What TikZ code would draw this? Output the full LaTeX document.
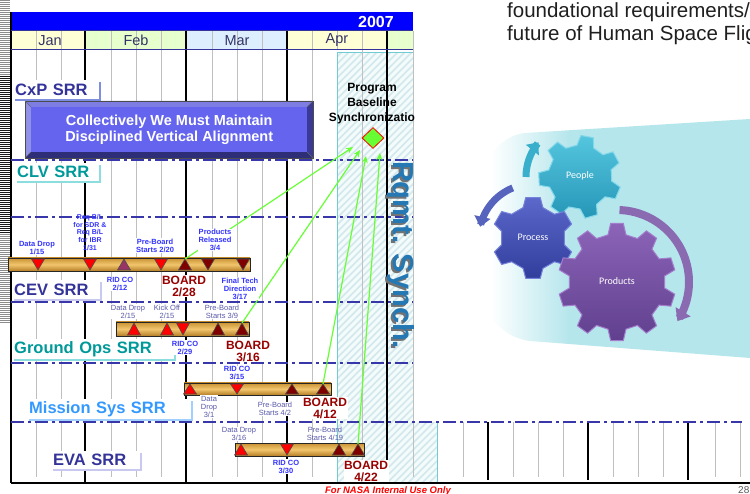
\documentclass[tikz,border=0pt]{standalone}
\usepackage{fontspec}
\setmainfont{Liberation Sans}
\newfontfamily\gearfont{Carlito}
\usetikzlibrary{arrows.meta,shapes.geometric,shadows}

\definecolor{navy}{RGB}{51,51,153}
\definecolor{tealtxt}{RGB}{0,153,153}
\definecolor{skytxt}{RGB}{51,153,255}
\definecolor{notetxt}{RGB}{51,51,255}
\definecolor{slate}{RGB}{90,90,170}
\definecolor{boardred}{RGB}{153,0,0}
\definecolor{dashc}{RGB}{55,55,170}
\definecolor{monthtxt}{RGB}{51,51,102}
\definecolor{janfill}{RGB}{255,255,214}
\definecolor{febfill}{RGB}{230,255,204}
\definecolor{marfill}{RGB}{221,238,255}
\definecolor{hatchbg}{RGB}{244,251,251}
\definecolor{hatchln}{RGB}{210,232,236}
\definecolor{hatchedge}{RGB}{112,204,210}
\definecolor{boxface}{RGB}{100,100,238}
\definecolor{boxtop}{RGB}{125,125,228}
\definecolor{boxdark}{RGB}{58,58,150}
\definecolor{greenarr}{RGB}{102,255,51}
\definecolor{trired}{RGB}{255,0,0}
\definecolor{tridark}{RGB}{128,0,0}
\definecolor{tripurp}{RGB}{153,51,102}
\definecolor{goldtop}{RGB}{200,145,50}
\definecolor{goldmid}{RGB}{242,198,110}
\definecolor{goldbot}{RGB}{180,126,38}
\definecolor{rqmt}{RGB}{36,120,180}
\definecolor{funnel}{RGB}{181,230,236}
\definecolor{cxpsh}{RGB}{127,143,224}
\definecolor{tealsh}{RGB}{140,222,222}
\definecolor{lavsh}{RGB}{200,200,240}
\definecolor{skysh}{RGB}{160,208,255}

\pgfdeclarehorizontalshading{funnelfade}{100bp}{color(0bp)=(white); color(29bp)=(white); color(43bp)=(funnel); color(100bp)=(funnel)}

\tikzset{
  weekline/.style={black!25, line width=0.7pt},
  monthline/.style={black, line width=1.3pt},
  rowsep/.style={dashc, line width=1.4pt, dash pattern=on 13pt off 4pt on 3pt off 4pt},
  srr/.style 2 args={anchor=north west, fill=white, inner sep=2pt, align=left,
    font=\fontsize{16.5}{18}\selectfont\bfseries, text=#1,
    general shadow={fill=#2, shadow xshift=2pt, shadow yshift=-2pt}},
  note/.style={font=\fontsize{7.5}{8}\selectfont\bfseries, text=notetxt, align=center, inner sep=0.5pt, fill=white},
  softnote/.style={font=\fontsize{7.5}{8}\selectfont, text=slate, align=center, inner sep=0.5pt, fill=white},
  board/.style={font=\fontsize{12}{12}\selectfont\bfseries, text=boardred, align=center, inner sep=0.5pt, fill=white},
  gbar/.style={draw=black!85, line width=0.9pt, top color=goldtop, bottom color=goldbot, middle color=goldmid},
  tri/.style={draw=black!70, line width=0.6pt, fill=#1},
  sync/.style={-{Stealth[length=7pt,width=6pt]}, greenarr, line width=1.2pt},
  gearlabel/.style={font=\gearfont\fontsize{10}{10}\selectfont, text=white},
}

% gear outline: centre x, centre y, teeth, root radius, tip radius, rotation, path options
\newcommand\cog[7]{%
  \path[#7] ({#1+#4*cos(#6-0.3*360/#3)},{#2+#4*sin(#6-0.3*360/#3)})
  \foreach \k in {1,...,#3}{
    -- ({#1+#4*cos(#6+(\k-1-0.3)*360/#3)},{#2+#4*sin(#6+(\k-1-0.3)*360/#3)})
    -- ({#1+#5*cos(#6+(\k-1-0.17)*360/#3)},{#2+#5*sin(#6+(\k-1-0.17)*360/#3)})
    -- ({#1+#5*cos(#6+(\k-1+0.17)*360/#3)},{#2+#5*sin(#6+(\k-1+0.17)*360/#3)})
    -- ({#1+#4*cos(#6+(\k-1+0.3)*360/#3)},{#2+#4*sin(#6+(\k-1+0.3)*360/#3)})
  } -- cycle;}

% milestone triangles on a bar: x, bar top, bar bottom, colour
\newcommand\tup[4]{\path[tri=#4] (#1-6.5,#3-1) -- (#1,#2+1) -- (#1+6.5,#3-1) -- cycle;}
\newcommand\tdown[4]{\path[tri=#4] (#1-6.5,#2+1) -- (#1,#3-1) -- (#1+6.5,#2+1) -- cycle;}

\begin{document}
\begin{tikzpicture}[x=1pt,y=-1pt]
\useasboundingbox (0,0) rectangle (750,494);
\begin{scope}
\clip (0,0) rectangle (750,494);

% ragged slide edge
\foreach \yy in {1,3,...,323}{
  \pgfmathsetmacro\g{int(45+45*(\yy>75)*(\yy<235))}
  \draw[black!\g, line width=1pt] (0,\yy) -- (10,\yy);
}

% year header and month strip
\fill[blue] (11,12) rectangle (413,31);
\node[font=\fontsize{16}{16}\selectfont\bfseries, text=white] (yr) at (376,21.5) {2007};
\fill[janfill] (11,31) rectangle (85,50);
\fill[febfill] (85,31) rectangle (186,50);
\fill[marfill] (186,31) rectangle (287,50);
\fill[janfill] (287,31) rectangle (387,50);
\fill[febfill] (387,31) rectangle (413,50);
\foreach \xx in {36,61,111,136,161,212,237,262,312,337,362,413} \draw[weekline] (\xx,31) -- (\xx,50);
\foreach \m/\xx in {Jan/50,Feb/136,Mar/237,Apr/337}
  \node[font=\fontsize{14.5}{14.5}\selectfont, text=monthtxt] (m\m) at (\xx,40.5) {\m};

% hatched synchronisation column
\begin{scope}
  \clip (337,53) -- (413,53) -- (413,422) -- (437,422) -- (437,483) -- (337,483) -- cycle;
  \fill[hatchbg] (330,50) rectangle (440,490);
  \foreach \k in {-110,-103,...,440} \draw[hatchln, line width=1.7pt] (\k,483) -- ++(500,-500);
\end{scope}
\draw[hatchedge, line width=1pt] (337,483) -- (337,53) -- (413,53);
\draw[hatchedge, line width=1pt] (437,422) -- (437,483);

% week and month grid
\foreach \xx in {36,61,111,136,161,212,237,262,312,362,413} \draw[weekline] (\xx,50) -- (\xx,477);
\foreach \xx in {463,513,538,563,613,638,663,715,740} \draw[weekline] (\xx,422) -- (\xx,477);
\foreach \xx in {488,588,688} \draw[monthline] (\xx,422) -- (\xx,480);
\foreach \xx in {85,186,287,387} \draw[monthline] (\xx,31) -- (\xx,483);
\draw[monthline] (11,12) -- (11,483);
\draw[navy, line width=1pt] (11,31) -- (413,31);
\draw[navy, line width=1pt] (11,50) -- (413,50);
\draw[black, line width=2pt] (11,483) -- (750,483);

% row separators
\foreach \yy in {160,217,302,363} \draw[rowsep] (11,\yy) -- (413,\yy);
\draw[rowsep] (11,422) -- (742,422);

% review labels
\node[srr={navy}{cxpsh}, text width=82pt, minimum height=19pt] (cxp) at (13,80) {CxP SRR};
\node[srr={tealtxt}{tealsh}, text width=80pt, minimum height=18pt] (clv) at (15,163) {CLV SRR};
\node[srr={navy}{lavsh}, text width=84pt, minimum height=19pt] (cev) at (12,280) {CEV SRR};
\node[srr={tealtxt}{tealsh}, text width=158pt, minimum height=20pt] (gops) at (12,339) {Ground Ops SRR};
\node[srr={skytxt}{skysh}, text width=160pt, minimum height=19pt] (msys) at (27,399) {Mission Sys SRR};
\node[srr={navy}{lavsh}, text width=85pt, minimum height=18pt] (eva) at (51,451) {EVA SRR};

% bevelled banner
\fill[boxdark] (25,101) rectangle (313,158);
\fill[boxtop] (25,101) -- (313,101) -- (307,107) -- (31,107) -- cycle;
\fill[boxtop!85!white] (25,101) -- (31,107) -- (31,152) -- (25,158) -- cycle;
\fill[boxdark!80!black] (25,158) -- (31,152) -- (307,152) -- (313,158) -- cycle;
\node[fill=boxface, anchor=north west, minimum width=276pt, minimum height=45pt, inner sep=0pt,
      text=white, align=center, font=\fontsize{14.5}{16}\selectfont\bfseries] (banner) at (31,107)
  {Collectively We Must Maintain\\Disciplined Vertical Alignment};
\draw[black!70, line width=0.6pt] (25,101) rectangle (313,158);
\draw[black!60, line width=0.4pt] (25,101) -- (31,107) (313,101) -- (307,107) (25,158) -- (31,152) (313,158) -- (307,152);

% schedule bars
\path[gbar] (8,258) rectangle (250,271);
\path[gbar] (116,322) rectangle (249,336);
\path[gbar] (184,383) rectangle (331,395);
\path[gbar] (235,443) rectangle (364,456);

\tdown{38}{258}{271}{trired}
\tdown{90}{258}{271}{trired}
\tup{124}{258}{271}{tripurp}
\tdown{161}{258}{271}{trired}
\tup{185}{258}{271}{tridark}
\tdown{208}{258}{271}{tridark}
\tdown{243}{258}{271}{tridark}

\tup{134}{322}{336}{trired}
\tup{167}{322}{336}{trired}
\tdown{183}{322}{336}{trired}
\tup{218}{322}{336}{tridark}
\tup{242}{322}{336}{tridark}

\tup{190}{383}{395}{trired}
\tdown{237}{383}{395}{trired}
\tup{292}{383}{395}{tridark}
\tup{323}{383}{395}{tridark}

\tup{241}{443}{456}{trired}
\tdown{287}{443}{456}{trired}
\tup{339}{443}{456}{tridark}
\tup{358}{443}{456}{tridark}

\coordinate (cevboard) at (185,259);
\coordinate (gopsboard) at (242,323);
\coordinate (msysboard) at (323,384);
\coordinate (evaboard) at (358,444);

% baseline synchronisation milestone
\begin{scope}
  \clip (300,60) rectangle (414,130);
  \node[font=\fontsize{12}{15}\selectfont\bfseries, align=center] (pbstext) at (372,104)
    {Program\\Baseline\\Synchronizatio};
\end{scope}
\node[diamond, draw=red, fill=greenarr, minimum width=22pt, minimum height=21pt,
      inner sep=0pt, line width=0.8pt] (pbs) at (373,138) {};
\coordinate (in1) at (353,147);
\coordinate (in2) at (360,150);
\coordinate (in3) at (366,156);
\coordinate (in4) at (380,153);
\draw[sync] (cevboard) -- (in1);
\draw[sync] (gopsboard) -- (in2);
\draw[sync] (msysboard) -- (in3);
\draw[sync] (evaboard) -- (in4);

% milestone notes
\node[note] (dd115) at (37,247.5) {Data Drop\\1/15};
\node[note, fill=none, font=\fontsize{7}{7.7}\selectfont\bfseries] (reqbl) at (90,232.5) {Req B/L\\for SDR \&\\Req B/L\\for IBR\\1/31};
\node[note] (pb220) at (155,245.5) {Pre-Board\\Starts 2/20};
\node[note] (prod34) at (215,240) {Products\\Released\\3/4};
\node[note] (rid212) at (120,284) {RID CO\\2/12};
\node[board] (b228) at (184,286) {BOARD\\2/28};
\node[note] (ftd) at (240,288.5) {Final Tech\\Direction\\3/17};

\node[softnote] (dd215) at (128,311.5) {Data Drop\\2/15};
\node[softnote] (ko215) at (167,311.5) {Kick Off\\2/15};
\node[softnote] (pb39) at (222,311.5) {Pre-Board\\Starts 3/9};
\node[note] (rid229) at (185,347.5) {RID CO\\2/29};
\node[board] (b316) at (248,351.5) {BOARD\\3/16};

\node[note] (rid315) at (237,373) {RID CO\\3/15};
\node[softnote] (dd31) at (209,406.5) {Data\\Drop\\3/1};
\node[softnote] (pb42) at (275,409) {Pre-Board\\Starts 4/2};
\node[board] (b412) at (325,408) {BOARD\\4/12};

\node[softnote] (dd316) at (239,434) {Data Drop\\3/16};
\node[softnote, fill=none] (pb419) at (325,434) {Pre-Board\\Starts 4/19};
\node[note] (rid330) at (286,466.5) {RID CO\\3/30};
\node[board] (b422) at (366,471) {BOARD\\4/22};

% vertical caption
\node[rotate=-90, font=\fontsize{29}{29}\selectfont\bfseries, text=black!55] (rqsh) at (399,257) {Rqmt. Synch.};
\node[rotate=-90, font=\fontsize{29}{29}\selectfont\bfseries, text=rqmt] (rq) at (401,255) {Rqmt. Synch.};

% intro text
\node[anchor=base west, inner sep=0pt, font=\fontsize{20.5}{23}\selectfont, text=black!88] (intro1) at (507,18) {foundational requirements/};
\node[anchor=base west, inner sep=0pt, font=\fontsize{20.5}{23}\selectfont, text=black!88] (intro2) at (507,41) {future of Human Space Flig};

% gear graphic
\path[shading=funnelfade] (750,119) -- (525,133) .. controls (485,137) and (468,195) .. (468,237)
  .. controls (468,285) and (488,336) .. (530,341) -- (750,358) -- cycle;
\draw[line width=7pt, color={rgb,255:red,58;green,175;blue,203}, -{Triangle[width=16pt,length=10pt]}]
  plot[domain=0:1, samples=25] ({580+54*cos(180+40*\x)},{177+54*sin(180+40*\x)});
\draw[line width=7pt, color={rgb,255:red,86;green,100;blue,190}, -{Triangle[width=16pt,length=10pt]}]
  plot[domain=0:1, samples=25] ({533+54*cos(248-56*\x)},{238+54*sin(248-56*\x)});
\draw[line width=8pt, color={rgb,255:red,138;green,107;blue,178}, -{Triangle[width=17pt,length=11pt]}]
  plot[domain=0:1, samples=40] ({617+72*cos(-88+121*\x)},{282+72*sin(-88+121*\x)});

\cog{580}{177}{7}{32}{41.5}{-80}{shade, top color={rgb,255:red,85;green,198;blue,222}, bottom color={rgb,255:red,38;green,150;blue,184}, draw={rgb,255:red,130;green,216;blue,234}, line width=1pt}
\cog{533}{238}{6}{32}{41}{-90}{shade, top color={rgb,255:red,92;green,104;blue,202}, bottom color={rgb,255:red,50;green,62;blue,156}, draw={rgb,255:red,118;green,130;blue,218}, line width=1pt}
\cog{617}{282}{10}{48}{59}{-90}{shade, top color={rgb,255:red,140;green,100;blue,184}, bottom color={rgb,255:red,96;green,64;blue,142}, draw={rgb,255:red,164;green,126;blue,204}, line width=1pt}

\node[gearlabel] (people) at (580,176) {People};
\node[gearlabel] (process) at (533,237) {Process};
\node[gearlabel] (products) at (617,281) {Products};

% footer
\node[anchor=base, inner sep=0pt, font=\fontsize{9.5}{9.5}\selectfont\bfseries\itshape, text=red] (foot) at (388,493) {For NASA Internal Use Only};
\node[anchor=base west, inner sep=0pt, font=\fontsize{10}{10}\selectfont, text=black!65] (pg) at (738,493) {28};
\end{scope}
\end{tikzpicture}
\end{document}
